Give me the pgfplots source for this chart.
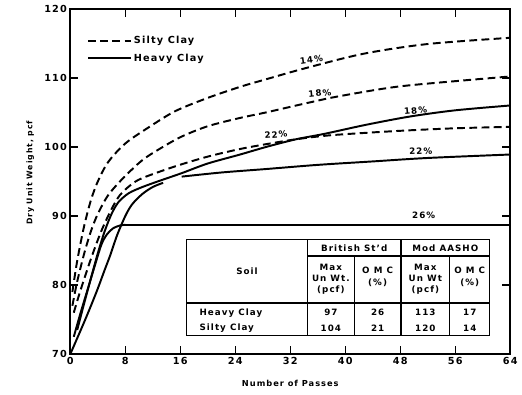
\documentclass[border=0pt]{standalone}
\usepackage{pgfplots}
\pgfplotsset{compat=1.18}
\usepackage{fontspec}
\setmainfont{DejaVu Sans}[LetterSpace=12]
\begin{document}
\pgfplotsset{
  silty/.style={black, line width=2bp, dash pattern=on 8bp off 4.5bp, smooth, mark=none},
  heavy/.style={black, line width=2bp, smooth, mark=none},
}
\newcommand{\tbl}{\fontsize{9}{11.5}\selectfont\bfseries}
\newcommand{\lbl}{\fontsize{9}{11}\selectfont\bfseries}
\begin{tikzpicture}
\useasboundingbox (-59bp,-41bp) rectangle (463bp,363bp);
\begin{axis}[
  at={(0bp,0bp)}, anchor=south west,
  scale only axis, width=451bp, height=354bp,
  xmin=0, xmax=64, ymin=70, ymax=120,
  xtick={0,8,...,64}, ytick={70,80,...,120},
  tick align=inside, major tick length=8bp,
  axis line style={line width=2bp},
  every tick/.style={black, line width=1.5bp},
  /pgf/number format/assume math mode=true,
  tick label style={font=\fontsize{10}{12}\selectfont\bfseries},
  xlabel={Number of Passes}, ylabel={Dry Unit Weight, pcf},
  xlabel style={at={(rel axis cs:0.5,-0.085)}, anchor=center,
    font=\fontsize{8.5}{10}\selectfont\bfseries},
  ylabel style={at={(rel axis cs:-0.091,0.525)}, anchor=center,
    font=\fontsize{8}{10}\selectfont\bfseries},
  legend style={draw=none, fill=none, at={(rel axis cs:0,1)}, anchor=north west,
    xshift=14bp, yshift=-24bp, row sep=5bp, font=\fontsize{10}{12}\selectfont\bfseries},
  legend cell align=left,
  legend image code/.code={\draw[#1] (0bp,0bp) -- (44bp,0bp);},
]
\addlegendimage{silty}
\addlegendentry{Silty Clay}
\addlegendimage{heavy}
\addlegendentry{Heavy Clay}

% Silty clay, 14% moisture
\addplot[silty, forget plot] coordinates {
 (0.3,79) (1,83.5) (2,88.5) (3,92.3) (4,95) (5.5,97.8) (8,100.5) (11.5,102.9)
 (15.3,105.2) (20,107.1) (24.7,108.7) (28.5,109.8) (34.2,111.4) (42.7,113.5)
 (52,114.9) (64,115.8)};
% Silty clay, 18% moisture
\addplot[silty, forget plot] coordinates {
 (0.3,77) (1,80.5) (2,84.5) (3,87.8) (4,90.3) (5.5,93) (7.7,95.5) (10.5,98.1)
 (13.3,99.9) (16.2,101.5) (20,103) (24.7,104.2) (28.5,105) (34.2,106.3)
 (38.9,107.3) (47.4,108.7) (56.9,109.6) (64,110.2)};
% Silty clay, 22% moisture
\addplot[silty, forget plot] coordinates {
 (0.5,76) (1.5,79.3) (3,83.8) (4.5,87.8) (6,91) (7.2,93) (8.8,94.5) (10.5,95.5)
 (15.3,97.2) (20,98.6) (24.7,99.7) (28.5,100.4) (32.8,101.1) (38,101.7)
 (47.4,102.3) (56,102.7) (64,102.9)};

% Heavy clay, 18% moisture
\addplot[heavy, forget plot] coordinates {
 (1,73.5) (2,77.3) (3,81) (4,84.6) (5,87.8) (6,90.3) (7,92) (8.5,93.3) (10.5,94.2)
 (13,95.1) (16.2,96.2) (20,97.6) (24.7,98.9) (28.5,100) (32.8,101.1) (37,101.9)
 (43,103.2) (49.4,104.4) (56,105.3) (64,106)};
% Heavy clay, 22% moisture
\addplot[heavy, forget plot] coordinates {
 (0,70) (1,72.3) (2,74.6) (3,77) (4,79.5) (5,82.2) (5.8,84.3) (6.8,87.2) (8,90)
 (9,91.7) (10.5,93.2) (12,94.2) (13.5,94.8)};
\addplot[heavy, forget plot] coordinates {
 (16.2,95.7) (22,96.3) (28.5,96.8) (36,97.4) (44,97.9) (52,98.4) (64,98.9)};
% Heavy clay, 26% moisture
\addplot[heavy, forget plot] coordinates {
 (0.5,72.5) (1.5,76) (2.5,79.3) (3.5,82.6) (4.5,85.8) (5.3,87.3) (6.2,88.2)
 (7.3,88.65) (8,88.7)};
\addplot[heavy, sharp plot, forget plot] coordinates {(8,88.7) (64,88.7)};

% moisture content labels
\node[font=\lbl, anchor=south, rotate=8] at (axis cs:35.2,111.7) {14\%};
\node[font=\lbl, anchor=south, rotate=6] at (axis cs:36.4,106.8) {18\%};
\node[font=\lbl, anchor=south, rotate=5] at (axis cs:30,100.8) {22\%};
\node[font=\lbl, anchor=south, rotate=5] at (axis cs:50.3,104.3) {18\%};
\node[font=\lbl, anchor=south, rotate=2] at (axis cs:51,98.4) {22\%};
\node[font=\lbl, anchor=south] at (axis cs:51.4,89.1) {26\%};

% compaction test table
\begin{scope}[line width=1.3bp]
\draw[fill=white] (axis cs:16.9,72.7) rectangle (axis cs:61,86.6);
\draw (axis cs:16.9,77.4) -- (axis cs:61,77.4);
\draw (axis cs:34.5,84.2) -- (axis cs:61,84.2);
\draw (axis cs:34.5,72.7) -- (axis cs:34.5,86.6);
\draw (axis cs:48.1,72.7) -- (axis cs:48.1,86.6);
\draw (axis cs:41.3,72.7) -- (axis cs:41.3,84.2);
\draw (axis cs:55.2,72.7) -- (axis cs:55.2,84.2);
\end{scope}
\node[font=\tbl] at (axis cs:25.7,82) {Soil};
\node[font=\tbl] at (axis cs:41.3,85.4) {British St'd};
\node[font=\tbl] at (axis cs:54.55,85.4) {Mod AASHO};
\node[font=\tbl, align=center] at (axis cs:37.9,80.8) {Max\\Un Wt.\\(pcf)};
\node[font=\tbl, align=center] at (axis cs:44.7,81.2) {O M C\\(\%)};
\node[font=\tbl, align=center] at (axis cs:51.65,80.8) {Max\\Un Wt\\(pcf)};
\node[font=\tbl, align=center] at (axis cs:58.1,81.2) {O M C\\(\%)};
\node[font=\tbl, anchor=west] at (axis cs:18.3,76) {Heavy Clay};
\node[font=\tbl, anchor=west] at (axis cs:18.3,73.8) {Silty Clay};
\node[font=\tbl] at (axis cs:37.9,76) {97};
\node[font=\tbl] at (axis cs:37.9,73.8) {104};
\node[font=\tbl] at (axis cs:44.7,76) {26};
\node[font=\tbl] at (axis cs:44.7,73.8) {21};
\node[font=\tbl] at (axis cs:51.65,76) {113};
\node[font=\tbl] at (axis cs:51.65,73.8) {120};
\node[font=\tbl] at (axis cs:58.1,76) {17};
\node[font=\tbl] at (axis cs:58.1,73.8) {14};
\end{axis}
\end{tikzpicture}
\end{document}
